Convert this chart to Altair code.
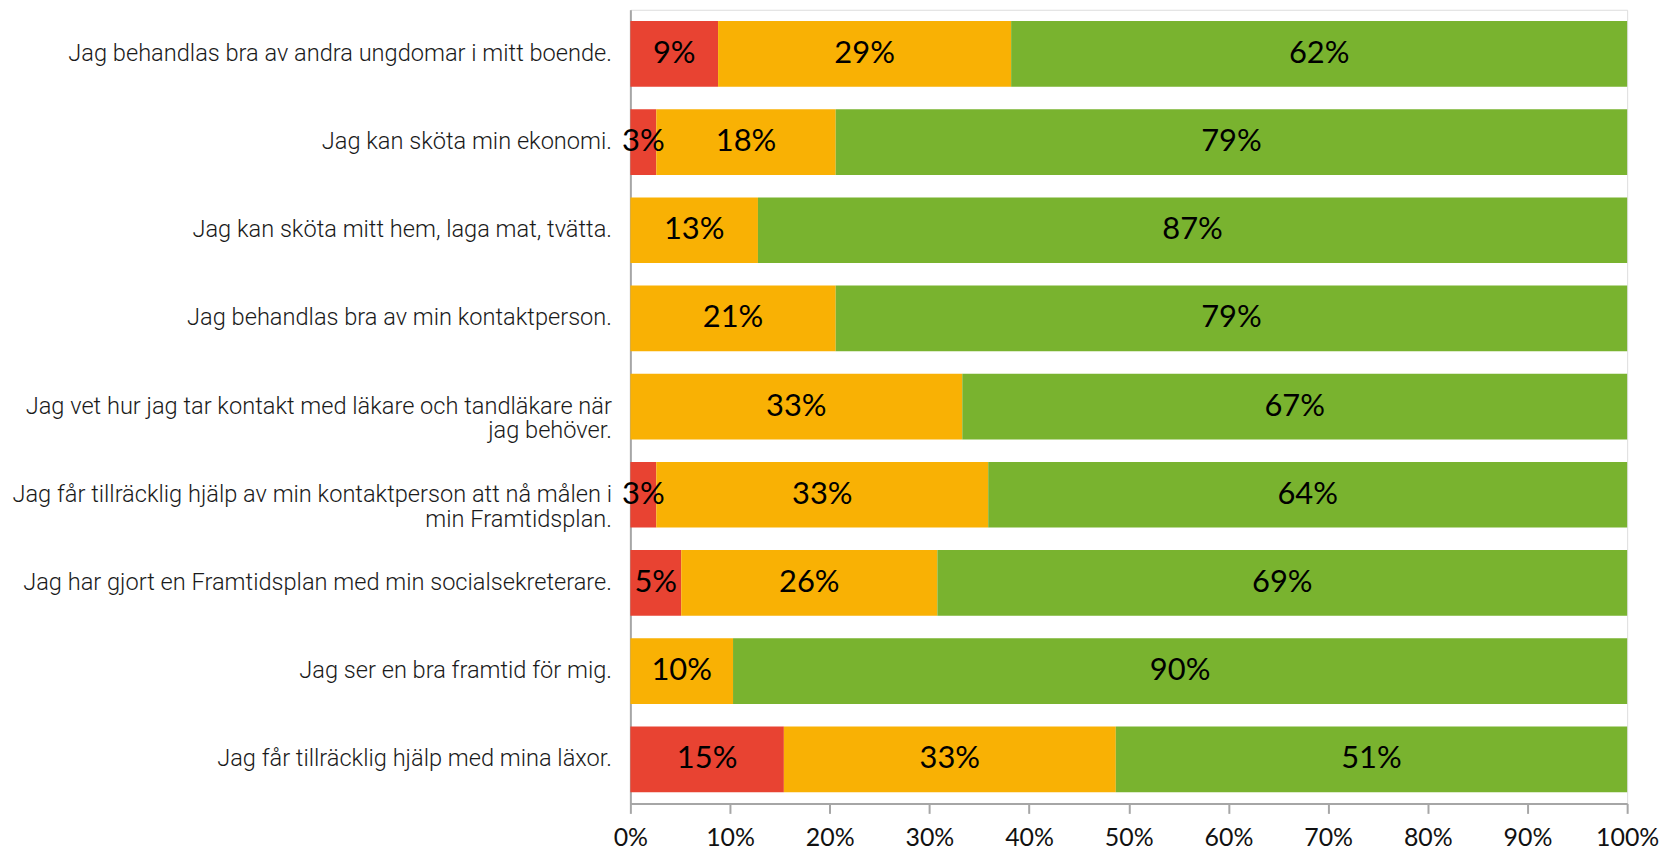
import altair as alt
import pandas as pd

questions = [
    "Jag behandlas bra av andra ungdomar i mitt boende.",
    "Jag kan sköta min ekonomi.",
    "Jag kan sköta mitt hem, laga mat, tvätta.",
    "Jag behandlas bra av min kontaktperson.",
    "Jag vet hur jag tar kontakt med läkare och tandläkare när\njag behöver.",
    "Jag får tillräcklig hjälp av min kontaktperson att nå målen i\nmin Framtidsplan.",
    "Jag har gjort en Framtidsplan med min socialsekreterare.",
    "Jag ser en bra framtid för mig.",
    "Jag får tillräcklig hjälp med mina läxor.",
]
red = [0.088, 0.026, 0.0, 0.0, 0.0, 0.026, 0.051, 0.0, 0.154]
orange = [0.294, 0.180, 0.128, 0.206, 0.333, 0.333, 0.257, 0.103, 0.333]
green = [0.618, 0.794, 0.872, 0.794, 0.667, 0.641, 0.692, 0.897, 0.513]
series = ["Röd", "Gul", "Grön"]
colors = ["#E84332", "#F9B104", "#79B32F"]
x_ticks = [0, 0.1, 0.2, 0.3, 0.4, 0.5, 0.6, 0.7, 0.8, 0.9, 1.0]

rows = []
for i, q in enumerate(questions):
    for j, (s, vals) in enumerate(zip(series, [red, orange, green])):
        rows.append({"q": q, "s": s, "k": j, "v": vals[i]})
df = pd.DataFrame(rows)

base = alt.Chart(df).transform_stack(
    stack="v", groupby=["q"], as_=["v0", "v1"], sort=[alt.SortField("k")]
).transform_calculate(mid="(datum.v0 + datum.v1) / 2")

y_enc = alt.Y(
    "q:N",
    sort=questions,
    title=None,
    scale=alt.Scale(paddingInner=0.255, paddingOuter=0.128),
    axis=alt.Axis(
        labelExpr="split(datum.label, '\\n')",
        labelFont="Roboto",
        labelFontWeight=300,
        labelFontSize=23.7,
        labelColor="#1a1a1a",
        labelLineHeight=25,
        labelPadding=19,
        labelLimit=800,
        ticks=False,
        domainColor="#A6A6A6",
        domainWidth=2,
        grid=False,
    ),
)

bars = base.mark_bar(stroke=None).encode(
    y=y_enc,
    x=alt.X(
        "v0:Q",
        scale=alt.Scale(domain=[0, 1], nice=False),
        title=None,
        axis=alt.Axis(
            values=x_ticks,
            format=".0%",
            labelFont="Lato",
            labelFontSize=25,
            labelColor="#111111",
            labelPadding=12,
            tickColor="#A6A6A6",
            tickWidth=2,
            tickSize=10,
            domainColor="#A6A6A6",
            domainWidth=2,
            grid=False,
            labelFlush=False,
            labelOverlap=False,
        ),
    ),
    x2="v1:Q",
    color=alt.Color(
        "s:N",
        scale=alt.Scale(domain=series, range=colors),
        legend=None,
    ),
)

labels = base.transform_filter("datum.v > 0").mark_text(
    font="Lato", fontSize=31, color="#000000", baseline="middle", align="center"
).encode(
    y=alt.Y("q:N", sort=questions),
    x=alt.X("mid:Q"),
    text=alt.Text("v:Q", format=".0%"),
)

chart = alt.layer(bars, labels).properties(
    width=1001,
    height=797,
    autosize=alt.AutoSizeParams(type="none"),
    padding={"left": 625, "top": 0, "right": 36, "bottom": 46},
).configure_view(stroke=None).configure(background="white")

chart.save("out.html", embed_options={"renderer": "svg", "actions": False})
